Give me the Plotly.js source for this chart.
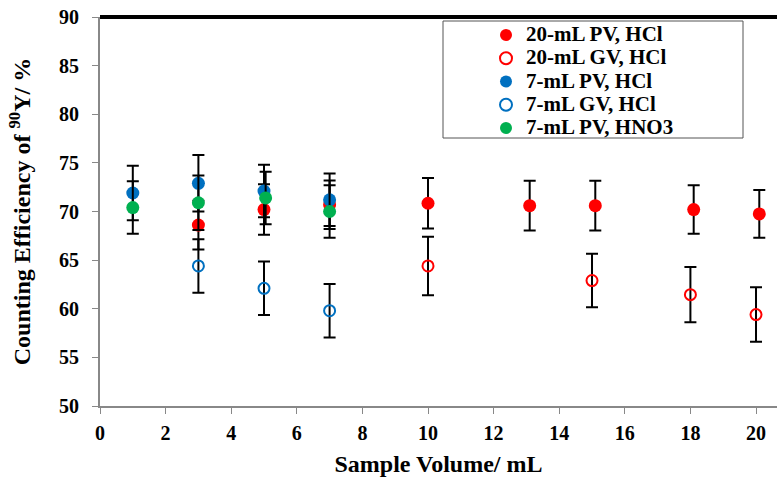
<!DOCTYPE html>
<html>
<head>
<meta charset="utf-8">
<script src="https://cdn.plot.ly/plotly-3.0.1.min.js"></script>
<style>html,body{margin:0;padding:0;background:#fff;}#chart{width:777px;height:481px;}</style>
</head>
<body>
<div id="chart"></div>
<script>
// Data
const x20PV = [3, 5, 7, 10, 13.1, 15.1, 18.1, 20.1];
const y20PV = [68.6, 70.2, 70.7, 70.85, 70.6, 70.6, 70.2, 69.75];
const e20PV = [2.5, 2.6, 2.5, 2.6, 2.55, 2.55, 2.5, 2.45];

const x20GV = [10, 15, 18, 20];
const y20GV = [64.4, 62.9, 61.45, 59.4];
const e20GV = [3.0, 2.75, 2.85, 2.8];

const x7PV = [1, 3, 5, 7];
const y7PV = [71.9, 72.9, 72.1, 71.2];
const e7PV = [2.8, 2.9, 2.7, 2.7];

const x7GV = [3, 5, 7];
const y7GV = [64.4, 62.1, 59.8];
const e7GV = [2.75, 2.75, 2.75];

const x7HNO3 = [1, 3, 5.05, 7];
const y7HNO3 = [70.4, 70.9, 71.4, 70.0];
const e7HNO3 = [2.7, 2.8, 2.7, 2.7];

const names = ['20-mL PV, HCl', '20-mL GV, HCl', '7-mL PV, HCl', '7-mL GV, HCl', '7-mL PV, HNO3'];
const xTicks = [0, 2, 4, 6, 8, 10, 12, 14, 16, 18, 20];
const yTicks = [50, 55, 60, 65, 70, 75, 80, 85, 90];

const RED = '#FF0000', BLUE = '#0070C0', GREEN = '#00B050';
const err = arr => ({type: 'data', array: arr, visible: true, color: '#000', thickness: 2, width: 6});
const filled = c => ({color: c, size: 13, symbol: 'circle'});
const open = c => ({color: c, size: 11, symbol: 'circle-open', line: {width: 2, color: c}});
const legName = s => '<span style="font-size:21px"><b>' + s + '</b></span>';

const traces = [
  {x: x20PV, y: y20PV, error_y: err(e20PV), name: legName(names[0]), mode: 'markers', type: 'scatter', marker: filled(RED)},
  {x: x20GV, y: y20GV, error_y: err(e20GV), name: legName(names[1]), mode: 'markers', type: 'scatter', marker: open(RED)},
  {x: x7PV, y: y7PV, error_y: err(e7PV), name: legName(names[2]), mode: 'markers', type: 'scatter', marker: filled(BLUE)},
  {x: x7GV, y: y7GV, error_y: err(e7GV), name: legName(names[3]), mode: 'markers', type: 'scatter', marker: open(BLUE)},
  {x: x7HNO3, y: y7HNO3, error_y: err(e7HNO3), name: legName(names[4]), mode: 'markers', type: 'scatter', marker: filled(GREEN)}
];

const FONT = 'Liberation Serif, Times New Roman, serif';
const layout = {
  width: 777, height: 481,
  margin: {l: 100, r: 0, t: 17, b: 75},
  paper_bgcolor: '#fff', plot_bgcolor: '#fff',
  font: {family: FONT, size: 16, color: '#000'},
  showlegend: true,
  legend: {
    x: (486 - 100) / 677, y: 1 - (18.3 - 17) / 389, xanchor: 'left', yanchor: 'top',
    bgcolor: 'rgba(0,0,0,0)', borderwidth: 0,
    font: {family: FONT, size: 15.6, color: '#000'},
    itemsizing: 'constant', tracegroupgap: 0
  },
  xaxis: {
    range: [0, 20.64], tickvals: xTicks, ticktext: xTicks.map(v => '<b>' + v + '</b>'),
    showgrid: false, zeroline: false, showline: true, linecolor: '#888', linewidth: 2,
    ticks: 'outside', ticklen: 6, tickcolor: '#888', tickwidth: 1,
    tickfont: {family: FONT, size: 20, color: '#000'},
    ticklabelstandoff: 2,
    title: {text: '<b>Sample Volume/ mL</b>', font: {family: FONT, size: 24, color: '#000'}, standoff: 12},
    fixedrange: true
  },
  yaxis: {
    range: [50, 90], tickvals: yTicks, ticktext: yTicks.map(v => '<b>' + v + '</b>'),
    showgrid: false, zeroline: false, showline: true, linecolor: '#888', linewidth: 2,
    ticks: 'outside', ticklen: 6, tickcolor: '#888', tickwidth: 1,
    tickfont: {family: FONT, size: 20, color: '#000'},
    ticklabelstandoff: 9,
    title: {text: '<b>Counting Efficiency of <sup>90</sup>Y/ %</b>', font: {family: FONT, size: 24, color: '#000'}, standoff: 22},
    fixedrange: true
  },
  shapes: [
    {type: 'line', xref: 'paper', yref: 'paper', x0: 0, x1: 1, y0: 1, y1: 1, line: {color: '#000', width: 4}},
    {type: 'rect', xref: 'paper', yref: 'paper', x0: (443 - 100) / 677, x1: (743 - 100) / 677,
     y0: 1 - (138 - 17) / 389, y1: 1 - (21 - 17) / 389, line: {color: '#555', width: 1}, fillcolor: 'rgba(0,0,0,0)'}
  ]
};

Plotly.newPlot('chart', traces, layout, {displayModeBar: false, staticPlot: true});
</script>
</body>
</html>
